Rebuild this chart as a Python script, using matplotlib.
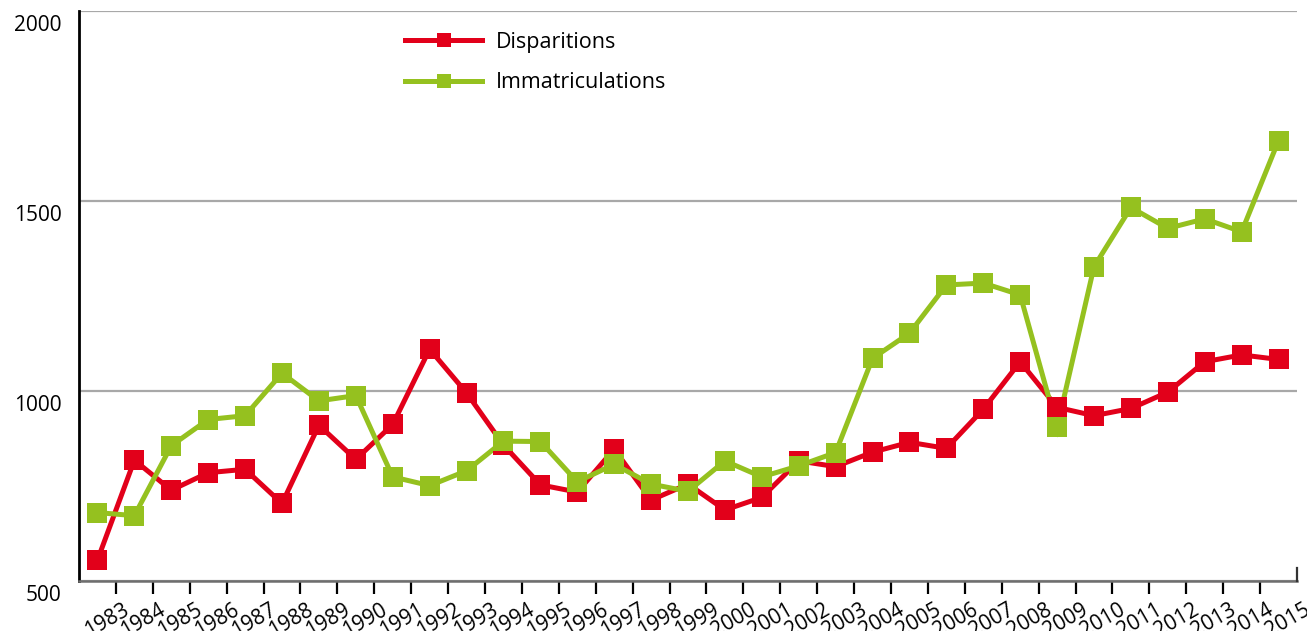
import matplotlib
matplotlib.use("Agg")
import matplotlib.pyplot as plt
import matplotlib.transforms as mtransforms
from matplotlib.lines import Line2D
import numpy as np

years = [str(y) for y in range(1983, 2016)]
disparitions = [555, 818, 739, 785, 794, 704, 910, 820, 912, 1110, 995, 858, 753,
                734, 847, 713, 755, 687, 720, 816, 801, 839, 865, 849, 952,
                1077, 957, 935, 954, 997, 1077, 1095, 1083]
immatriculations = [680, 672, 856, 925, 935, 1047, 974, 988, 774, 751, 790, 868, 867,
                    761, 807, 755, 736, 816, 774, 803, 838, 1086, 1152, 1279, 1284,
                    1253, 904, 1327, 1483, 1428, 1453, 1419, 1659]
series_names = ["Disparitions", "Immatriculations"]
yticks = [500, 1000, 1500, 2000]

RED = "#E2001A"
GREEN = "#95C11F"

plt.rcParams['font.family'] = ['Open Sans', 'DejaVu Sans']

W, H = 1307, 631
fig = plt.figure(figsize=(W / 100, H / 100), dpi=100)
ax = fig.add_axes([79 / W, 1 - 581 / H, (1297 - 79) / W, (581 - 11) / H])

n = len(years)
x = np.arange(n) + 0.5

# lines first, then markers
ax.plot(x, disparitions, color=RED, lw=3.6, zorder=2, solid_joinstyle='miter')
ax.plot(x, immatriculations, color=GREEN, lw=3.6, zorder=2.1, solid_joinstyle='miter')
ax.plot(x, disparitions, ls='none', marker='s', ms=14, mew=0, color=RED, zorder=3)
ax.plot(x, immatriculations, ls='none', marker='s', ms=14, mew=0, color=GREEN, zorder=3.1)

ax.set_xlim(0, n)
ax.set_ylim(500, 2000)

# grid
ax.set_yticks(yticks)
ax.yaxis.grid(True, color="#A8A8A8", lw=1.6, zorder=0)
ax.set_axisbelow(True)
ax.tick_params(axis='y', length=0, labelsize=15, pad=12.5)
off_y = mtransforms.ScaledTranslation(0, -12 / 100, fig.dpi_scale_trans)
for lab in ax.get_yticklabels():
    lab.set_transform(lab.get_transform() + off_y)

# x ticks at category boundaries
ax.set_xticks(np.arange(1, n))
ax.set_xticklabels([])
ax.tick_params(axis='x', length=9.5, width=1.6, color='black', direction='out')

# rotated year labels
trans = mtransforms.blended_transform_factory(ax.transData, ax.transAxes)
off = mtransforms.ScaledTranslation(6 / 100, -18 / 100, fig.dpi_scale_trans)
for i, yr in enumerate(years):
    ax.text(i + 1, 0, yr, transform=trans + off, rotation=30, rotation_mode='anchor',
            ha='right', va='top', fontsize=15, clip_on=False)

for s in ['top', 'right']:
    ax.spines[s].set_visible(False)
ax.spines['left'].set_color('black')
ax.spines['left'].set_linewidth(2)
ax.spines['bottom'].set_color('#6E6E6E')
ax.spines['bottom'].set_linewidth(1.8)

# small upward tick at the right end of the x axis
ax.plot([1, 1], [0, 13 / 570], transform=ax.transAxes, color='#333333', lw=1.6,
        clip_on=False, zorder=5)

handles = [Line2D([], [], color=RED, lw=3.6, marker='s', ms=9.5, mew=0),
           Line2D([], [], color=GREEN, lw=3.6, marker='s', ms=9.5, mew=0)]
leg = ax.legend(handles, series_names, loc='upper left',
                bbox_to_anchor=((405 - 79) / 1218, (581 - 32) / 570),
                frameon=False, fontsize=15.5, handlelength=3.6, handletextpad=0.6,
                labelspacing=0.9, borderpad=0, borderaxespad=0)

fig.savefig("out.png", dpi=100)
